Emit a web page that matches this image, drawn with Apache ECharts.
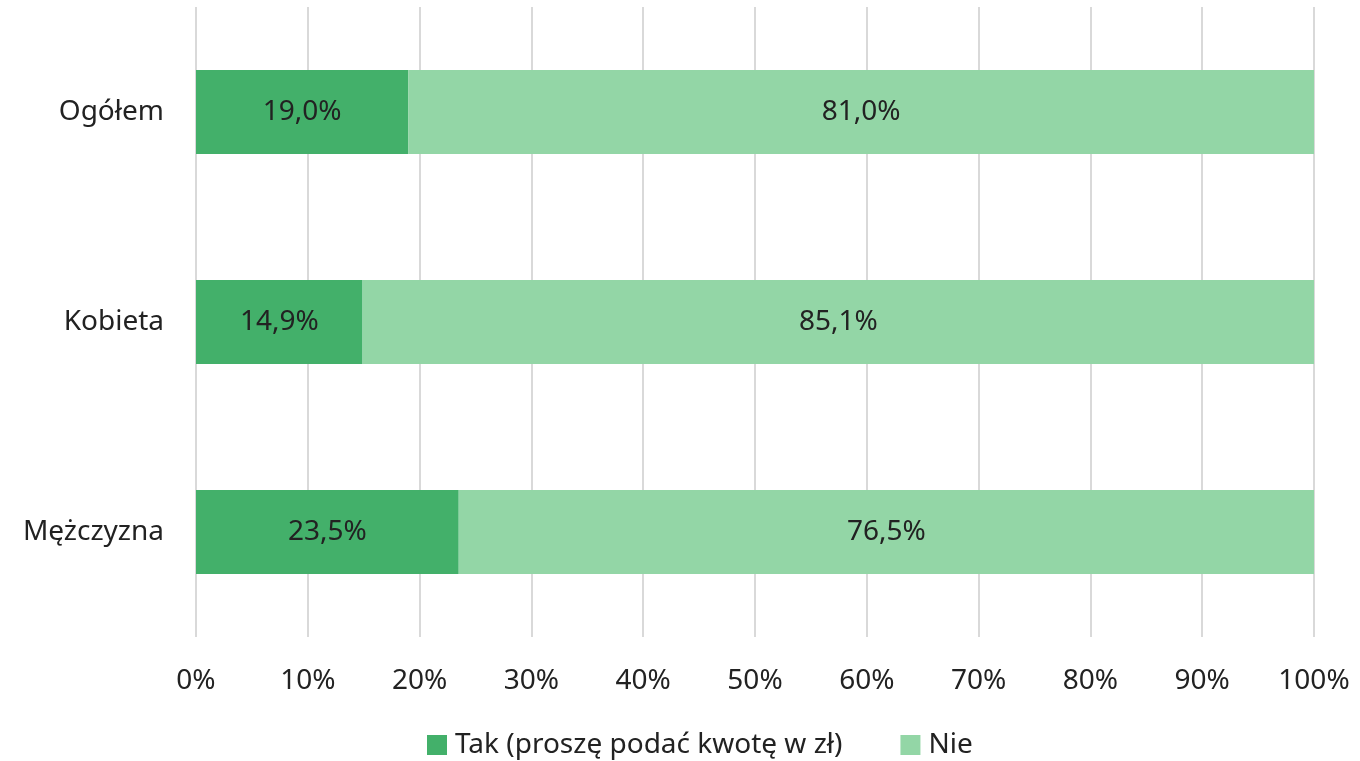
<!DOCTYPE html>
<html><head><meta charset="utf-8">
<script src="https://cdn.jsdelivr.net/npm/echarts@6/dist/echarts.min.js"></script>
<style>html,body{margin:0;padding:0;background:#fff}#c{width:1360px;height:761px}</style>
</head><body><div id="c"></div>
<script>
const categories = ['Ogółem', 'Kobieta', 'Mężczyzna'];
const seriesNames = ['Tak (proszę podać kwotę w zł)', 'Nie'];
const takValues = [19.0, 14.9, 23.5];
const nieValues = [81.0, 85.1, 76.5];
const colors = ['#43B06A', '#93D6A6'];
const FONT = 'Noto Sans';
const FS = 28;
const fmt = v => v.toFixed(1).replace('.', ',') + '%';
const chart = echarts.init(document.getElementById('c'));
const mk = (name, data, color) => ({
  name, type: 'bar', stack: 'a', data, barWidth: '40%',
  itemStyle: { color },
  label: { show: true, position: 'inside', formatter: p => fmt(p.value), color: '#222', fontSize: FS, fontFamily: FONT, padding: [4, 0, 0, 0] },
  emphasis: { disabled: true }
});
chart.setOption({
  animation: false,
  textStyle: { fontFamily: FONT },
  grid: { left: 196, right: 46, top: 7, bottom: 124, containLabel: false },
  legend: {
    left: 422, top: 726, itemWidth: 20, itemHeight: 20, itemGap: 58, icon: 'rect',
    textStyle: { fontSize: FS, color: '#222', fontFamily: FONT, padding: [0, 0, 0, 3] },
    data: seriesNames
  },
  xAxis: {
    type: 'value', min: 0, max: 100, interval: 10,
    axisLabel: { formatter: '{value}%', fontSize: FS, color: '#222', margin: 30, fontFamily: FONT },
    splitLine: { lineStyle: { color: '#d9d9d9', width: 2 } },
    axisLine: { show: false }, axisTick: { show: false }
  },
  yAxis: {
    type: 'category', data: categories, inverse: true,
    axisLabel: { fontSize: FS, color: '#222', margin: 32, fontFamily: FONT, padding: [4, 0, 0, 0] },
    axisLine: { show: false }, axisTick: { show: false }
  },
  series: [mk(seriesNames[0], takValues, colors[0]), mk(seriesNames[1], nieValues, colors[1])]
});
</script></body></html>
